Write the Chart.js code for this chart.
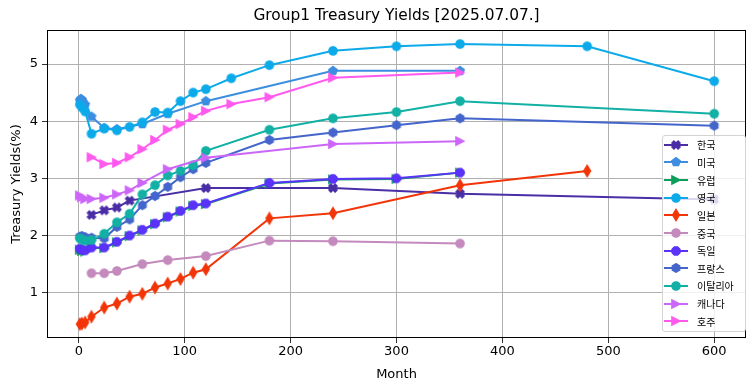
<!DOCTYPE html>
<html>
<head>
<meta charset="utf-8">
<script src="https://cdn.jsdelivr.net/npm/chart.js@4/dist/chart.umd.min.js"></script>
<style>
  body { margin: 0; background: #fff; }
  #caja { position: relative; width: 755px; height: 391px; }
  #leyenda {
    position: absolute; left: 662px; top: 135px; width: 84px; height: 197px;
    box-sizing: border-box; border: 1px solid #d3d3d3; border-radius: 3px;
    background: rgba(255,255,255,0.8);
    font-family: "Noto Sans CJK KR", "DejaVu Sans", sans-serif; font-size: 10px; color: #000;
  }
  .fila { display: flex; align-items: center; height: 17.65px; }
  .fila canvas { margin-left: 1px; margin-right: 9px; }
</style>
</head>
<body>
<div id="caja">
  <canvas id="myChart" width="755" height="391"></canvas>
  <div id="leyenda"></div>
</div>
<script>
// datos (meses, rendimiento %)
const korMonths = [12, 24, 36, 48, 120, 240, 360, 600];
const korYields = [2.36, 2.44, 2.49, 2.61, 2.83, 2.83, 2.73, 2.63];

const usMonths = [1, 2, 3, 4, 6, 12, 24, 36, 60, 84, 120, 240, 360];
const usYields = [4.36, 4.39, 4.37, 4.33, 4.29, 4.08, 3.88, 3.86, 3.95, 4.13, 4.35, 4.88, 4.88];

const euMonths = [1, 3, 6, 12, 24, 36, 48, 60, 72, 84, 96, 108, 120, 180, 240, 300, 360];
const euYields = [1.75, 1.73, 1.72, 1.78, 1.78, 1.88, 1.99, 2.09, 2.20, 2.32, 2.42, 2.52, 2.55, 2.91, 2.98, 2.99, 3.10];

const ukMonths = [1, 3, 6, 12, 24, 36, 48, 60, 72, 84, 96, 108, 120, 144, 180, 240, 300, 360, 480, 600];
const ukYields = [4.29, 4.24, 4.17, 3.78, 3.87, 3.84, 3.90, 3.98, 4.16, 4.15, 4.35, 4.50, 4.56, 4.75, 4.98, 5.23, 5.31, 5.35, 5.31, 4.70];

const jpMonths = [1, 3, 6, 12, 24, 36, 48, 60, 72, 84, 96, 108, 120, 180, 240, 360, 480];
const jpYields = [0.45, 0.46, 0.48, 0.58, 0.74, 0.81, 0.93, 0.98, 1.09, 1.16, 1.24, 1.35, 1.41, 2.30, 2.39, 2.88, 3.13];

const cnMonths = [12, 24, 36, 60, 84, 120, 180, 240, 360];
const cnYields = [1.34, 1.34, 1.38, 1.50, 1.57, 1.64, 1.91, 1.90, 1.86];

const deMonths = [1, 3, 6, 12, 24, 36, 48, 60, 72, 84, 96, 108, 120, 180, 240, 300, 360];
const deYields = [1.77, 1.75, 1.74, 1.79, 1.79, 1.89, 2.00, 2.10, 2.21, 2.33, 2.43, 2.53, 2.56, 2.92, 2.99, 3.00, 3.10];

const frMonths = [1, 3, 6, 12, 24, 36, 48, 60, 72, 84, 96, 108, 120, 180, 240, 300, 360, 600];
const frYields = [1.98, 1.99, 1.97, 1.96, 1.95, 2.15, 2.28, 2.53, 2.69, 2.85, 3.02, 3.16, 3.27, 3.67, 3.80, 3.93, 4.05, 3.92];

const itMonths = [1, 3, 6, 12, 24, 36, 48, 60, 72, 84, 96, 108, 120, 180, 240, 300, 360, 600];
const itYields = [1.95, 1.93, 1.91, 1.92, 2.03, 2.23, 2.38, 2.72, 2.88, 3.05, 3.13, 3.23, 3.48, 3.85, 4.05, 4.16, 4.35, 4.13];

const caMonths = [1, 3, 6, 12, 24, 36, 48, 60, 84, 120, 240, 360];
const caYields = [2.70, 2.67, 2.64, 2.64, 2.66, 2.72, 2.79, 2.92, 3.16, 3.36, 3.60, 3.65];

const auMonths = [12, 24, 36, 48, 60, 72, 84, 96, 108, 120, 144, 180, 240, 360];
const auYields = [3.37, 3.25, 3.27, 3.37, 3.51, 3.67, 3.85, 3.95, 4.07, 4.18, 4.30, 4.42, 4.76, 4.85];

const xTicks = [0, 100, 200, 300, 400, 500, 600];
const yTicks = [1, 2, 3, 4, 5];

const series = [
  { nombre: "한국", meses: korMonths, valores: korYields, color: "#4a2ea6", forma: "x" },
  { nombre: "미국", meses: usMonths, valores: usYields, color: "#3d8ee0", forma: "pent" },
  { nombre: "유럽", meses: euMonths, valores: euYields, color: "#0c9e5c", forma: "tri" },
  { nombre: "영국", meses: ukMonths, valores: ukYields, color: "#0daaea", forma: "circ" },
  { nombre: "일본", meses: jpMonths, valores: jpYields, color: "#f23508", forma: "diam" },
  { nombre: "중국", meses: cnMonths, valores: cnYields, color: "#c48abd", forma: "circ" },
  { nombre: "독일", meses: deMonths, valores: deYields, color: "#5a32fa", forma: "oct" },
  { nombre: "프랑스", meses: frMonths, valores: frYields, color: "#4466cc", forma: "hex" },
  { nombre: "이탈리아", meses: itMonths, valores: itYields, color: "#12b0a5", forma: "circ" },
  { nombre: "캐나다", meses: caMonths, valores: caYields, color: "#cc66f8", forma: "tri" },
  { nombre: "호주", meses: auMonths, valores: auYields, color: "#ff59ee", forma: "tri" },
];

function poligono(g, n, r, giro) {
  for (let k = 0; k < n; k++) {
    const a = giro + k * 2 * Math.PI / n;
    const px = r * Math.sin(a), py = -r * Math.cos(a);
    if (k === 0) g.moveTo(px, py); else g.lineTo(px, py);
  }
  g.closePath();
}

function dibujarMarcador(g, forma, color, cx, cy) {
  const r = 4.2;
  g.save();
  g.translate(cx, cy);
  g.fillStyle = color;
  g.strokeStyle = color;
  g.lineWidth = 1.2;
  g.beginPath();
  if (forma === "circ") {
    g.arc(0, 0, r, 0, Math.PI * 2);
  } else if (forma === "oct") {
    poligono(g, 8, r + 0.2, Math.PI / 8);
  } else if (forma === "hex") {
    poligono(g, 6, r + 0.2, 0);
  } else if (forma === "pent") {
    poligono(g, 5, r + 0.3, 0);
  } else if (forma === "tri") {
    g.moveTo(r, 0); g.lineTo(-r, -r); g.lineTo(-r, r); g.closePath();
  } else if (forma === "diam") {
    g.moveTo(0, -5.8); g.lineTo(3.5, 0); g.lineTo(0, 5.8); g.lineTo(-3.5, 0); g.closePath();
  } else if (forma === "x") {
    const pts = [[-1, -2], [0, -1], [1, -2], [2, -1], [1, 0], [2, 1], [1, 2], [0, 1], [-1, 2], [-2, 1], [-1, 0], [-2, -1]];
    pts.forEach((p, k) => {
      if (k === 0) g.moveTo(p[0] * 2.1, p[1] * 2.1); else g.lineTo(p[0] * 2.1, p[1] * 2.1);
    });
    g.closePath();
  }
  g.fill();
  g.stroke();
  g.restore();
}

function marcador(forma, color) {
  const c = document.createElement("canvas");
  c.width = 16; c.height = 16;
  dibujarMarcador(c.getContext("2d"), forma, color, 8, 8);
  return c;
}

// leyenda dentro del grafico
const leyenda = document.getElementById("leyenda");
series.forEach(s => {
  const fila = document.createElement("div");
  fila.className = "fila";
  const icono = document.createElement("canvas");
  icono.width = 24; icono.height = 14;
  const g = icono.getContext("2d");
  g.strokeStyle = s.color;
  g.lineWidth = 2;
  g.beginPath(); g.moveTo(0, 7); g.lineTo(24, 7); g.stroke();
  dibujarMarcador(g, s.forma, s.color, 12, 7);
  const texto = document.createElement("span");
  texto.textContent = s.nombre;
  fila.appendChild(icono);
  fila.appendChild(texto);
  leyenda.appendChild(fila);
});

const marco = {
  id: "marco",
  afterDatasetsDraw(chart) {
    const { ctx, chartArea: a } = chart;
    ctx.save();
    ctx.strokeStyle = "#000";
    ctx.lineWidth = 1;
    ctx.strokeRect(a.left + 0.5, a.top + 0.5, a.right - a.left - 1, a.bottom - a.top - 1);
    // titulo centrado sobre el area del grafico
    ctx.fillStyle = "#000";
    ctx.font = "15.4px 'DejaVu Sans', sans-serif";
    ctx.textAlign = "center";
    ctx.textBaseline = "middle";
    ctx.fillText("Group1 Treasury Yields [2025.07.07.]", (a.left + a.right) / 2, 16);
    ctx.restore();
  }
};

Chart.defaults.font.family = "'DejaVu Sans', sans-serif";
Chart.defaults.color = "#000";

const ctx = document.getElementById("myChart").getContext("2d");
const myChart = new Chart(ctx, {
  type: "line",
  data: {
    datasets: series.map((s, i) => ({
      label: s.nombre,
      data: s.meses.map((m, k) => ({ x: m, y: s.valores[k] })),
      borderColor: s.color,
      backgroundColor: s.color,
      borderWidth: 2,
      pointStyle: marcador(s.forma, s.color),
      pointRadius: 4,
      fill: false,
      tension: 0,
      order: series.length - i,
    })),
  },
  options: {
    responsive: false,
    animation: false,
    events: [],
    layout: { padding: { top: 30, right: 9, left: 0, bottom: 0 } },
    plugins: {
      legend: { display: false },
      tooltip: { enabled: false },
      title: { display: false },
    },
    scales: {
      x: {
        type: "linear",
        min: -30,
        max: 630,
        afterBuildTicks: (s) => { s.ticks = xTicks.map(v => ({ value: v })); },
        afterFit: (s) => { s.height = 53; },
        grid: { color: "#b0b0b0", tickColor: "#333", tickLength: 5 },
        border: { display: false },
        ticks: { font: { size: 13 }, padding: 1, maxRotation: 0 },
        title: { display: true, text: "Month", font: { size: 13 }, padding: { top: 0, bottom: 9 } },
      },
      y: {
        min: 0.207,
        max: 5.595,
        afterBuildTicks: (s) => { s.ticks = yTicks.map(v => ({ value: v })); },
        afterFit: (s) => { s.width = 47; },
        grid: { color: "#b0b0b0", tickColor: "#333", tickLength: 5 },
        border: { display: false },
        ticks: { font: { size: 13 }, padding: 4 },
        title: { display: true, text: "Treasury Yields(%)", font: { size: 13 }, padding: { top: 9, bottom: 0 } },
      },
    },
  },
  plugins: [marco],
});
</script>
</body>
</html>
